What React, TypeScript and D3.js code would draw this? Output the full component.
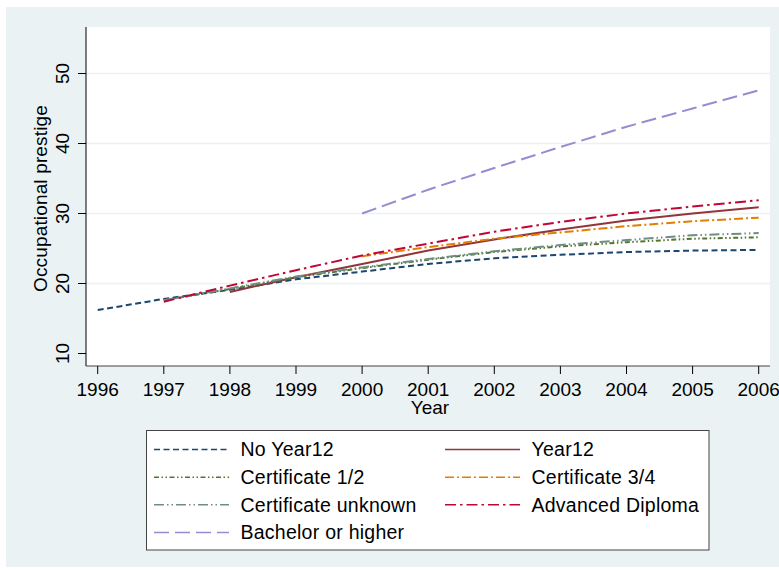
import React from "react";
import * as d3 from "d3";

const years = [1996, 1997, 1998, 1999, 2000, 2001, 2002, 2003, 2004, 2005, 2006];
const noYear12 = [16.2, 17.8, 19.1, 20.6, 21.7, 22.8, 23.6, 24.1, 24.5, 24.7, 24.8];
const year12 = [null, null, 18.8, 20.9, 22.8, 24.7, 26.3, 27.7, 29.0, 30.0, 30.9];
const cert12 = [null, 17.6, 19.2, 20.9, 22.2, 23.4, 24.5, 25.3, 25.9, 26.4, 26.6];
const cert34 = [null, null, null, null, 23.9, 25.2, 26.4, 27.3, 28.2, 28.9, 29.4];
const certUnknown = [null, 17.6, 19.3, 21.0, 22.3, 23.5, 24.6, 25.5, 26.2, 26.9, 27.2];
const advDiploma = [null, 17.4, 19.7, 21.9, 24.0, 25.7, 27.4, 28.8, 30.0, 31.0, 31.9];
const bachelor = [null, null, null, null, 30.0, 33.4, 36.5, 39.5, 42.4, 45.0, 47.6];

const yTicks = [10, 20, 30, 40, 50];
const gridTicks = [20, 30, 40, 50];

const seriesNames = [
  "No Year12",
  "Year12",
  "Certificate 1/2",
  "Certificate 3/4",
  "Certificate unknown",
  "Advanced Diploma",
  "Bachelor or higher",
];
const seriesValues = [noYear12, year12, cert12, cert34, certUnknown, advDiploma, bachelor];
const seriesColors = ["#1a476f", "#90353b", "#55752f", "#e37e00", "#6e8e84", "#c10534", "#938dd2"];
const seriesDash = [
  "6,3.5",
  "none",
  "5,2.5,1.5,2.5,1.5,2.5",
  "9,3,2,3",
  "10,3,1.5,3,1.5,3",
  "11,4,2.5,4",
  "15,6",
];

const FONT = "'Liberation Sans', Arial, sans-serif";

export default function App() {
  const x = d3.scaleLinear().domain([1996, 2006]).range([97.7, 758.7]);
  const y = d3.scaleLinear().domain([10, 50]).range([353.5, 73.5]);
  const plotL = 86, plotR = 770, plotT = 27, plotB = 366;

  const line = d3
    .line<[number, number | null]>()
    .defined((d) => d[1] !== null)
    .x((d) => x(d[0]))
    .y((d) => y(d[1] as number));

  const legendX = [154, 445];
  const legendRowY = [449.5, 477.2, 504.8, 532.5];

  return (
    <svg
      width={779}
      height={572}
      style={{ position: "absolute", left: 0, top: 0, display: "block" }}
      fontFamily={FONT}
    >
      <rect x={0} y={0} width={779} height={572} fill="#ffffff" />
      <rect x={6} y={7} width={773} height={560} fill="#eaf2f3" />
      <rect x={plotL} y={plotT} width={plotR - plotL} height={plotB - plotT} fill="#ffffff" />

      {gridTicks.map((t) => (
        <line key={"g" + t} x1={plotL} x2={plotR} y1={y(t)} y2={y(t)} stroke="#eaf2f3" strokeWidth={1.6} />
      ))}

      {seriesValues.map((vals, i) => {
        const pts = years.map((yr, j) => [yr, vals[j]] as [number, number | null]);
        return (
          <path
            key={"s" + i}
            d={line(pts) || ""}
            fill="none"
            stroke={seriesColors[i]}
            strokeWidth={2}
            strokeDasharray={seriesDash[i]}
          />
        );
      })}

      {/* axes */}
      <line x1={plotL} x2={plotL} y1={plotT} y2={plotB} stroke="#000" strokeWidth={1} />
      <line x1={plotL} x2={plotR} y1={plotB} y2={plotB} stroke="#444" strokeWidth={1.2} />

      {yTicks.map((t) => (
        <g key={"yt" + t}>
          <line x1={plotL - 8} x2={plotL} y1={y(t)} y2={y(t)} stroke="#000" strokeWidth={1} />
          <text
            transform={`translate(68.5,${y(t)}) rotate(-90)`}
            textAnchor="middle"
            fontSize={19}
            fill="#000"
          >
            {t}
          </text>
        </g>
      ))}
      {years.map((t) => (
        <g key={"xt" + t}>
          <line x1={x(t)} x2={x(t)} y1={plotB} y2={plotB + 8} stroke="#000" strokeWidth={1} />
          <text x={x(t)} y={396} textAnchor="middle" fontSize={19} fill="#000">
            {t}
          </text>
        </g>
      ))}

      <text x={430} y={414} textAnchor="middle" fontSize={19} fill="#000">
        Year
      </text>
      <text
        transform={`translate(47,198.5) rotate(-90)`}
        textAnchor="middle"
        fontSize={19}
        fill="#000"
        letterSpacing={0.15}
      >
        Occupational prestige
      </text>

      {/* legend */}
      <rect x={146.5} y={430.5} width={562.5} height={119.5} fill="#ffffff" stroke="#444" strokeWidth={1} />
      {seriesNames.map((name, i) => {
        const col = i % 2;
        const row = Math.floor(i / 2);
        const lx = legendX[col];
        const ly = legendRowY[row];
        return (
          <g key={"l" + i}>
            <line
              x1={lx}
              x2={lx + 75}
              y1={ly}
              y2={ly}
              stroke={seriesColors[i]}
              strokeWidth={1.5}
              strokeDasharray={seriesDash[i]}
            />
            <text x={lx + 86.5} y={ly + 6.8} fontSize={19.5} letterSpacing={0.25} fill="#000">
              {name}
            </text>
          </g>
        );
      })}
    </svg>
  );
}
